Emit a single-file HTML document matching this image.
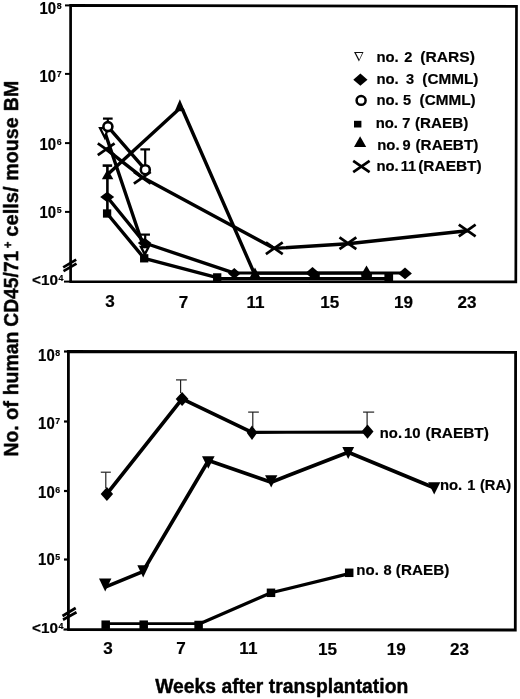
<!DOCTYPE html>
<html><head><meta charset="utf-8"><title>Figure</title>
<style>
html,body{margin:0;padding:0;background:#fff;}
svg{display:block;}
text{font-family:"Liberation Sans", Arial, Helvetica, sans-serif;font-weight:bold;fill:#000;stroke:#000;stroke-width:0.2px;stroke-linejoin:round;}
.big text,text.big{stroke-width:0.4px;}
</style></head><body>
<svg width="520" height="699" viewBox="0 0 520 699">
<defs><filter id="soft" x="0" y="0" width="520" height="699" filterUnits="userSpaceOnUse"><feGaussianBlur stdDeviation="0.38"/></filter></defs>
<rect width="520" height="699" fill="#fff"/>
<g filter="url(#soft)">
<polyline points="70.6,281.6 70.6,5.4 516.5,6.3 515.8,281.9 69.4,281.6" fill="none" stroke="#000" stroke-width="2.7" stroke-linejoin="miter"/>
<line x1="65" y1="5.4" x2="70.6" y2="5.4" stroke="#000" stroke-width="2.0" stroke-linecap="butt"/>
<line x1="65" y1="73.9" x2="70.6" y2="73.9" stroke="#000" stroke-width="2.0" stroke-linecap="butt"/>
<line x1="65" y1="143.1" x2="70.6" y2="143.1" stroke="#000" stroke-width="2.0" stroke-linecap="butt"/>
<line x1="65" y1="211.9" x2="70.6" y2="211.9" stroke="#000" stroke-width="2.0" stroke-linecap="butt"/>
<line x1="64" y1="281.6" x2="70.6" y2="281.6" stroke="#000" stroke-width="2.0" stroke-linecap="butt"/>
<line x1="63.2" y1="267.3" x2="76.2" y2="259.7" stroke="#000" stroke-width="2.7" stroke-linecap="butt"/>
<line x1="63.5" y1="271.2" x2="76.5" y2="263.6" stroke="#000" stroke-width="2.7" stroke-linecap="butt"/>
<text x="56.1" y="13.5" font-size="15.6" text-anchor="end" textLength="16.6" lengthAdjust="spacingAndGlyphs">10</text>
<text x="56.7" y="8.9" font-size="9.5" text-anchor="start" textLength="4.9" lengthAdjust="spacingAndGlyphs">8</text>
<text x="56.1" y="81.60000000000001" font-size="15.6" text-anchor="end" textLength="16.6" lengthAdjust="spacingAndGlyphs">10</text>
<text x="56.7" y="77.00000000000001" font-size="9.5" text-anchor="start" textLength="4.9" lengthAdjust="spacingAndGlyphs">7</text>
<text x="56.1" y="149.7" font-size="15.6" text-anchor="end" textLength="16.6" lengthAdjust="spacingAndGlyphs">10</text>
<text x="56.7" y="145.1" font-size="9.5" text-anchor="start" textLength="4.9" lengthAdjust="spacingAndGlyphs">6</text>
<text x="56.1" y="217.89999999999998" font-size="15.6" text-anchor="end" textLength="16.6" lengthAdjust="spacingAndGlyphs">10</text>
<text x="56.7" y="213.29999999999998" font-size="9.5" text-anchor="start" textLength="4.9" lengthAdjust="spacingAndGlyphs">5</text>
<text x="57.9" y="285.2" font-size="15.5" text-anchor="end" textLength="25.9" lengthAdjust="spacingAndGlyphs">&lt;10</text>
<text x="58.5" y="281.4" font-size="9" text-anchor="start" textLength="4.9" lengthAdjust="spacingAndGlyphs">4</text>
<text x="105.14" y="307.2" font-size="17.4" text-anchor="start" textLength="9.51" lengthAdjust="spacingAndGlyphs">3</text>
<text x="178.75" y="307.5" font-size="17.4" text-anchor="start" textLength="9.51" lengthAdjust="spacingAndGlyphs">7</text>
<text x="246.54" y="307.5" font-size="17.4" text-anchor="start" textLength="18.08" lengthAdjust="spacingAndGlyphs">11</text>
<text x="320.37" y="307.7" font-size="17.4" text-anchor="start" textLength="19.02" lengthAdjust="spacingAndGlyphs">15</text>
<text x="393.95" y="308.0" font-size="17.4" text-anchor="start" textLength="19.02" lengthAdjust="spacingAndGlyphs">19</text>
<text x="457.51" y="308.2" font-size="17.4" text-anchor="start" textLength="19.02" lengthAdjust="spacingAndGlyphs">23</text>
<polyline points="107.1,213.5 144.2,258.3 217.2,277.6" fill="none" stroke="#000" stroke-width="3.4" stroke-linejoin="round" stroke-linecap="round"/>
<polyline points="217,278.7 389,278.7" fill="none" stroke="#000" stroke-width="3.2" stroke-linejoin="round" stroke-linecap="round"/>
<polyline points="107.2,197 144.6,243 234.4,273.2" fill="none" stroke="#000" stroke-width="3.4" stroke-linejoin="round" stroke-linecap="round"/>
<polyline points="234.4,273.1 312.5,273 405,273.1" fill="none" stroke="#000" stroke-width="3.0" stroke-linejoin="round" stroke-linecap="round"/>
<polyline points="107.6,174.5 178.8,109.3 182.5,109.5 254.3,273.5" fill="none" stroke="#000" stroke-width="3.4" stroke-linejoin="round" stroke-linecap="round"/>
<polyline points="254.3,273.2 366.5,273.0" fill="none" stroke="#000" stroke-width="3.0" stroke-linejoin="round" stroke-linecap="round"/>
<polyline points="104.8,132 144.3,249" fill="none" stroke="#000" stroke-width="3.4" stroke-linejoin="round" stroke-linecap="round"/>
<polyline points="107.9,126.6 145.3,169.7" fill="none" stroke="#000" stroke-width="3.4" stroke-linejoin="round" stroke-linecap="round"/>
<polyline points="106.2,149.2 142.3,177.3 274.3,248.4 347.9,243.7 467.2,230.8" fill="none" stroke="#000" stroke-width="3.4" stroke-linejoin="round" stroke-linecap="round"/>
<line x1="107.4" y1="165.6" x2="107.4" y2="213" stroke="#000" stroke-width="2.6" stroke-linecap="butt"/>
<line x1="102.65" y1="165.6" x2="112.15" y2="165.6" stroke="#000" stroke-width="2.6" stroke-linecap="butt"/>
<line x1="107.8" y1="118.6" x2="107.8" y2="124" stroke="#000" stroke-width="2.2" stroke-linecap="butt"/>
<line x1="102.95" y1="118.6" x2="112.64999999999999" y2="118.6" stroke="#000" stroke-width="2.2" stroke-linecap="butt"/>
<line x1="145.2" y1="149.4" x2="145.2" y2="166" stroke="#000" stroke-width="2.2" stroke-linecap="butt"/>
<line x1="140.35" y1="149.4" x2="150.04999999999998" y2="149.4" stroke="#000" stroke-width="2.2" stroke-linecap="butt"/>
<line x1="145.2" y1="234.6" x2="145.2" y2="242" stroke="#000" stroke-width="2.2" stroke-linecap="butt"/>
<line x1="140.45" y1="234.6" x2="149.95" y2="234.6" stroke="#000" stroke-width="2.2" stroke-linecap="butt"/>
<polygon points="100.0,128.1 108.0,128.1 104.8,137.6" fill="#fff" stroke="#000" stroke-width="2.2"/>
<polygon points="141.0,247 148.60000000000002,247 144.8,254.4" fill="#fff" stroke="#000" stroke-width="2.4" stroke-linejoin="miter"/>
<rect x="102.94999999999999" y="209.35" width="8.3" height="8.3" fill="#000"/>
<rect x="140.04999999999998" y="254.15" width="8.3" height="8.3" fill="#000"/>
<rect x="213.04999999999998" y="273.25" width="8.3" height="8.3" fill="#000"/>
<rect x="384.4" y="273.6" width="8.7" height="8" fill="#000"/>
<polygon points="100.2,197 107.2,191.7 114.2,197 107.2,202.3" fill="#000"/>
<polygon points="137.79999999999998,243 144.6,237.7 151.4,243 144.6,248.3" fill="#000"/>
<polygon points="228.0,273.5 234.3,268.0 240.60000000000002,273.5 234.3,279.0" fill="#000"/>
<polygon points="305.5,273 312.5,267.0 319.5,273 312.5,279.0" fill="#000"/>
<polygon points="398.1,273.4 405,267.59999999999997 411.9,273.4 405,279.2" fill="#000"/>
<rect x="310" y="272" width="9.8" height="6" fill="#000"/>
<polygon points="175.04999999999998,110.55000000000001 184.65,110.55000000000001 179.85,99.25" fill="#000"/>
<polygon points="101.85,179.2 113.35,179.2 107.6,169.2" fill="#000"/>
<polygon points="249.75,277.4 260.25,277.4 255,267.4" fill="#000"/>
<polygon points="360.75,275.29999999999995 372.25,275.29999999999995 366.5,265.5" fill="#000"/>
<rect x="361.3" y="274" width="10.6" height="4" fill="#000"/>
<circle cx="107.9" cy="126.6" r="4.5" fill="#fff" stroke="#000" stroke-width="2.6"/>
<circle cx="145.3" cy="169.7" r="4.5" fill="#fff" stroke="#000" stroke-width="2.6"/>
<line x1="97.8" y1="143.29999999999998" x2="114.60000000000001" y2="155.1" stroke="#000" stroke-width="2.7" stroke-linecap="butt"/>
<line x1="97.8" y1="155.1" x2="114.60000000000001" y2="143.29999999999998" stroke="#000" stroke-width="2.7" stroke-linecap="butt"/>
<line x1="133.9" y1="171.9" x2="150.70000000000002" y2="183.70000000000002" stroke="#000" stroke-width="2.7" stroke-linecap="butt"/>
<line x1="133.9" y1="183.70000000000002" x2="150.70000000000002" y2="171.9" stroke="#000" stroke-width="2.7" stroke-linecap="butt"/>
<line x1="265.90000000000003" y1="242.29999999999998" x2="282.7" y2="254.1" stroke="#000" stroke-width="2.7" stroke-linecap="butt"/>
<line x1="265.90000000000003" y1="254.1" x2="282.7" y2="242.29999999999998" stroke="#000" stroke-width="2.7" stroke-linecap="butt"/>
<line x1="339.5" y1="237.4" x2="356.29999999999995" y2="249.20000000000002" stroke="#000" stroke-width="2.7" stroke-linecap="butt"/>
<line x1="339.5" y1="249.20000000000002" x2="356.29999999999995" y2="237.4" stroke="#000" stroke-width="2.7" stroke-linecap="butt"/>
<line x1="458.8" y1="224.6" x2="475.59999999999997" y2="236.4" stroke="#000" stroke-width="2.7" stroke-linecap="butt"/>
<line x1="458.8" y1="236.4" x2="475.59999999999997" y2="224.6" stroke="#000" stroke-width="2.7" stroke-linecap="butt"/>
<text x="376.43" y="62.2" font-size="15" text-anchor="start" textLength="22.3" lengthAdjust="spacingAndGlyphs">no.</text>
<text x="404.18" y="62.2" font-size="15" text-anchor="start" textLength="8.12" lengthAdjust="spacingAndGlyphs">2</text>
<text x="420.32" y="62.2" font-size="15" text-anchor="start" textLength="54.66" lengthAdjust="spacingAndGlyphs">(RARS)</text>
<text x="376.43" y="84.4" font-size="15" text-anchor="start" textLength="22.3" lengthAdjust="spacingAndGlyphs">no.</text>
<text x="405.92" y="84.4" font-size="15" text-anchor="start" textLength="8.12" lengthAdjust="spacingAndGlyphs">3</text>
<text x="422.34" y="84.4" font-size="15" text-anchor="start" textLength="56.03" lengthAdjust="spacingAndGlyphs">(CMML)</text>
<text x="376.43" y="105.4" font-size="15" text-anchor="start" textLength="22.3" lengthAdjust="spacingAndGlyphs">no.</text>
<text x="403.11" y="105.4" font-size="15" text-anchor="start" textLength="8.12" lengthAdjust="spacingAndGlyphs">5</text>
<text x="419.64" y="105.4" font-size="15" text-anchor="start" textLength="56.03" lengthAdjust="spacingAndGlyphs">(CMML)</text>
<text x="375.63" y="127.7" font-size="15" text-anchor="start" textLength="22.3" lengthAdjust="spacingAndGlyphs">no.</text>
<text x="402.15" y="127.7" font-size="15" text-anchor="start" textLength="8.12" lengthAdjust="spacingAndGlyphs">7</text>
<text x="414.94" y="127.7" font-size="15" text-anchor="start" textLength="53.32" lengthAdjust="spacingAndGlyphs">(RAEB)</text>
<text x="377.23" y="149.7" font-size="15" text-anchor="start" textLength="22.3" lengthAdjust="spacingAndGlyphs">no.</text>
<text x="402.5" y="149.7" font-size="15" text-anchor="start" textLength="8.12" lengthAdjust="spacingAndGlyphs">9</text>
<text x="415.54" y="149.7" font-size="15" text-anchor="start" textLength="62.76" lengthAdjust="spacingAndGlyphs">(RAEBT)</text>
<text x="376.43" y="171.0" font-size="15" text-anchor="start" textLength="22.3" lengthAdjust="spacingAndGlyphs">no.</text>
<text x="400.81" y="171.0" font-size="15" text-anchor="start" textLength="15.43" lengthAdjust="spacingAndGlyphs">11</text>
<text x="418.23" y="171.0" font-size="15" text-anchor="start" textLength="63.48" lengthAdjust="spacingAndGlyphs">(RAEBT)</text>
<path d="M354,52.1 L363.5,52.1 L358.9,61.6 Z M355.9,53 L359.3,59.6 L362.2,53 Z" fill="#111" fill-rule="evenodd"/>
<polygon points="353.29999999999995,79.7 360.4,73.60000000000001 367.5,79.7 360.4,85.8" fill="#000"/>
<ellipse cx="361.1" cy="100.4" rx="4.5" ry="4.4" fill="#fff" stroke="#000" stroke-width="2.5"/>
<rect x="354" y="120.8" width="7.4" height="6.7" fill="#000"/>
<polygon points="354,147 366.2,147 360.1,136.2" fill="#000"/>
<line x1="353.2" y1="160.9" x2="369.59999999999997" y2="172.1" stroke="#000" stroke-width="2.7" stroke-linecap="butt"/>
<line x1="353.2" y1="172.1" x2="369.59999999999997" y2="160.9" stroke="#000" stroke-width="2.7" stroke-linecap="butt"/>
<polyline points="68.4,629.5 68.4,351.5 515.6,352.4 515.3,630 67.2,629.5" fill="none" stroke="#000" stroke-width="2.8" stroke-linejoin="miter"/>
<line x1="64" y1="351.5" x2="68.4" y2="351.5" stroke="#000" stroke-width="2.2" stroke-linecap="butt"/>
<line x1="64" y1="421.5" x2="68.4" y2="421.5" stroke="#000" stroke-width="2.2" stroke-linecap="butt"/>
<line x1="64" y1="491" x2="68.4" y2="491" stroke="#000" stroke-width="2.2" stroke-linecap="butt"/>
<line x1="64" y1="559.5" x2="68.4" y2="559.5" stroke="#000" stroke-width="2.2" stroke-linecap="butt"/>
<line x1="63.5" y1="629.5" x2="68.4" y2="629.5" stroke="#000" stroke-width="2.2" stroke-linecap="butt"/>
<line x1="62.5" y1="616" x2="75.7" y2="608" stroke="#000" stroke-width="2.7" stroke-linecap="butt"/>
<line x1="63" y1="619.7" x2="76.5" y2="612.3" stroke="#000" stroke-width="2.7" stroke-linecap="butt"/>
<text x="54.7" y="360.59999999999997" font-size="15.6" text-anchor="end" textLength="16.6" lengthAdjust="spacingAndGlyphs">10</text>
<text x="55.300000000000004" y="355.99999999999994" font-size="9.5" text-anchor="start" textLength="4.9" lengthAdjust="spacingAndGlyphs">8</text>
<text x="54.7" y="428.59999999999997" font-size="15.6" text-anchor="end" textLength="16.6" lengthAdjust="spacingAndGlyphs">10</text>
<text x="55.300000000000004" y="423.99999999999994" font-size="9.5" text-anchor="start" textLength="4.9" lengthAdjust="spacingAndGlyphs">7</text>
<text x="54.7" y="497.8" font-size="15.6" text-anchor="end" textLength="16.6" lengthAdjust="spacingAndGlyphs">10</text>
<text x="55.300000000000004" y="493.2" font-size="9.5" text-anchor="start" textLength="4.9" lengthAdjust="spacingAndGlyphs">6</text>
<text x="54.7" y="564.9000000000001" font-size="15.6" text-anchor="end" textLength="16.6" lengthAdjust="spacingAndGlyphs">10</text>
<text x="55.300000000000004" y="560.3000000000001" font-size="9.5" text-anchor="start" textLength="4.9" lengthAdjust="spacingAndGlyphs">5</text>
<text x="57.9" y="632.6" font-size="15.5" text-anchor="end" textLength="25.9" lengthAdjust="spacingAndGlyphs">&lt;10</text>
<text x="58.5" y="628.8000000000001" font-size="9" text-anchor="start" textLength="4.9" lengthAdjust="spacingAndGlyphs">4</text>
<text x="103.14" y="654.2" font-size="17.4" text-anchor="start" textLength="9.51" lengthAdjust="spacingAndGlyphs">3</text>
<text x="176.35" y="654.2" font-size="17.4" text-anchor="start" textLength="9.51" lengthAdjust="spacingAndGlyphs">7</text>
<text x="239.34" y="654.3" font-size="17.4" text-anchor="start" textLength="18.08" lengthAdjust="spacingAndGlyphs">11</text>
<text x="318.07" y="654.5" font-size="17.4" text-anchor="start" textLength="19.02" lengthAdjust="spacingAndGlyphs">15</text>
<text x="386.65" y="654.5" font-size="17.4" text-anchor="start" textLength="19.02" lengthAdjust="spacingAndGlyphs">19</text>
<text x="450.11" y="654.8" font-size="17.4" text-anchor="start" textLength="19.02" lengthAdjust="spacingAndGlyphs">23</text>
<polyline points="106.9,493.9 182.1,398.9 252,432.4" fill="none" stroke="#000" stroke-width="3.7" stroke-linejoin="round" stroke-linecap="round"/>
<polyline points="252,432.3 367.5,432.2" fill="none" stroke="#000" stroke-width="3.2" stroke-linejoin="round" stroke-linecap="round"/>
<polyline points="106.3,586.6 142.8,571.6 208.5,460.5 271.2,482.2 348.2,452.2 434,487.8" fill="none" stroke="#000" stroke-width="3.7" stroke-linejoin="round" stroke-linecap="round"/>
<polyline points="106,623.7 198.6,623.7" fill="none" stroke="#000" stroke-width="2.8" stroke-linejoin="round" stroke-linecap="round"/>
<polyline points="198.6,624.2 271,592.8 349.2,573.6" fill="none" stroke="#000" stroke-width="3.2" stroke-linejoin="round" stroke-linecap="round"/>
<line x1="105.8" y1="472.2" x2="105.8" y2="488" stroke="#222" stroke-width="1.2" stroke-linecap="butt"/>
<line x1="100.8" y1="472.2" x2="110.8" y2="472.2" stroke="#222" stroke-width="1.2" stroke-linecap="butt"/>
<line x1="180.6" y1="379.9" x2="180.6" y2="393" stroke="#222" stroke-width="1.2" stroke-linecap="butt"/>
<line x1="176.0" y1="379.9" x2="186.8" y2="379.9" stroke="#222" stroke-width="1.2" stroke-linecap="butt"/>
<line x1="252.8" y1="412.1" x2="252.8" y2="427" stroke="#222" stroke-width="1.2" stroke-linecap="butt"/>
<line x1="248.15" y1="412.1" x2="258.85" y2="412.1" stroke="#222" stroke-width="1.2" stroke-linecap="butt"/>
<line x1="367.1" y1="412.1" x2="367.1" y2="426" stroke="#222" stroke-width="1.2" stroke-linecap="butt"/>
<line x1="363.05" y1="412.1" x2="374.15000000000003" y2="412.1" stroke="#222" stroke-width="1.2" stroke-linecap="butt"/>
<polygon points="100.7,493.9 106.9,486.9 113.10000000000001,493.9 106.9,500.9" fill="#000"/>
<polygon points="175.7,398.9 182.1,391.9 188.5,398.9 182.1,405.9" fill="#000"/>
<polygon points="246.7,432.8 252,425.6 257.3,432.8 252,440.0" fill="#000"/>
<polygon points="361.5,431.6 367.5,424.40000000000003 373.5,431.6 367.5,438.8" fill="#000"/>
<polygon points="99.0,578.5 111.4,578.5 105.2,591.4" fill="#000"/>
<polygon points="137.29999999999998,565.3 149.1,565.3 143.2,577.5999999999999" fill="#000"/>
<polygon points="202.0,456.2 214.60000000000002,456.2 208.3,468.8" fill="#000"/>
<polygon points="265.05,475.2 277.34999999999997,475.2 271.2,487.4" fill="#000"/>
<polygon points="342.3,447 354.09999999999997,447 348.2,459.0" fill="#000"/>
<polygon points="428.09999999999997,482.3 440.3,482.3 434.2,494.40000000000003" fill="#000"/>
<rect x="101.45" y="620.45" width="8.5" height="8.5" fill="#000"/>
<rect x="139.45" y="620.45" width="8.5" height="8.5" fill="#000"/>
<rect x="194.35" y="620.75" width="8.5" height="8.5" fill="#000"/>
<rect x="266.75" y="588.55" width="8.5" height="8.5" fill="#000"/>
<rect x="344.95" y="568.55" width="8.5" height="8.5" fill="#000"/>
<text x="379.84" y="437.9" font-size="15" text-anchor="start" textLength="22.19" lengthAdjust="spacingAndGlyphs">no.</text>
<text x="404.03" y="437.9" font-size="15" text-anchor="start" textLength="16.6" lengthAdjust="spacingAndGlyphs">10</text>
<text x="425.53" y="437.9" font-size="15" text-anchor="start" textLength="63.37" lengthAdjust="spacingAndGlyphs">(RAEBT)</text>
<text x="439.93" y="490.0" font-size="15" text-anchor="start" textLength="22.3" lengthAdjust="spacingAndGlyphs">no.</text>
<text x="467.26" y="490.0" font-size="15" text-anchor="start" textLength="8.12" lengthAdjust="spacingAndGlyphs">1</text>
<text x="479.96" y="490.0" font-size="15" text-anchor="start" textLength="31.08" lengthAdjust="spacingAndGlyphs">(RA)</text>
<text x="356.32" y="575.2" font-size="15" text-anchor="start" textLength="22.52" lengthAdjust="spacingAndGlyphs">no.</text>
<text x="383.55" y="575.2" font-size="15" text-anchor="start" textLength="8.12" lengthAdjust="spacingAndGlyphs">8</text>
<text x="395.84" y="575.2" font-size="15" text-anchor="start" textLength="53.42" lengthAdjust="spacingAndGlyphs">(RAEB)</text>
<text x="155.2" y="693" font-size="20" text-anchor="start" textLength="253.1" lengthAdjust="spacingAndGlyphs" class="big">Weeks after transplantation</text>
<g class="big" transform="translate(18.1,0) rotate(-90)">
<text x="-456.56" y="-0.4" font-size="20.3" text-anchor="start" textLength="31.13" lengthAdjust="spacingAndGlyphs">No.</text>
<text x="-420.01" y="-0.3" font-size="20.3" text-anchor="start" textLength="19.09" lengthAdjust="spacingAndGlyphs">of</text>
<text x="-395.36" y="-0.2" font-size="20.3" text-anchor="start" textLength="63.89" lengthAdjust="spacingAndGlyphs">human</text>
<text x="-326.77" y="0.0" font-size="20.3" text-anchor="start" textLength="76.09" lengthAdjust="spacingAndGlyphs">CD45/71</text>
<text x="-236.7" y="0.1" font-size="20.3" text-anchor="start" textLength="50.34" lengthAdjust="spacingAndGlyphs">cells/</text>
<text x="-180.68" y="0.2" font-size="20.3" text-anchor="start" textLength="63.43" lengthAdjust="spacingAndGlyphs">mouse</text>
<text x="-111.17" y="0.3" font-size="20.3" text-anchor="start" textLength="30.34" lengthAdjust="spacingAndGlyphs">BM</text>
<text x="-248.36" y="-6.2" font-size="12" text-anchor="start" textLength="6.71" lengthAdjust="spacingAndGlyphs">+</text>
</g>
</g>
</svg>
</body></html>
